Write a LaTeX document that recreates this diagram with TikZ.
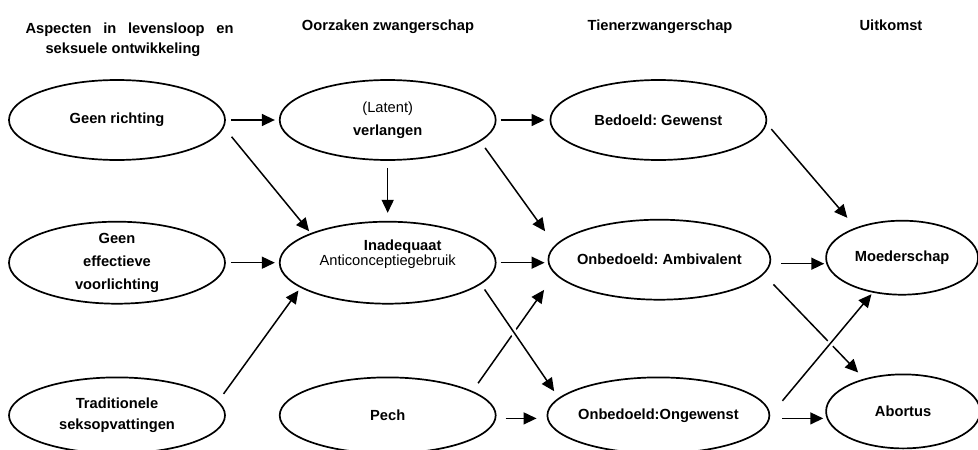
\documentclass[tikz,border=0pt]{standalone}
\usepackage{fontspec}
\setmainfont{Liberation Sans}
\frenchspacing
\usetikzlibrary{shapes.geometric,arrows.meta,positioning}

\begin{document}
\begin{tikzpicture}[
    x=1pt, y=-1pt,
    state/.style={ellipse, draw, line width=1.7pt, minimum width=216pt, minimum height=80pt, inner xsep=-10pt, inner ysep=-1pt, align=center, font=\fontsize{14.67}{23}\selectfont\bfseries},
    head/.style={anchor=base, font=\fontsize{14.67}{20}\selectfont\bfseries},
    arrow/.style={-{Triangle[length=13pt,width=12pt]}, line width=1.5pt},
    gap/.style={draw=white, line width=7pt}
]
\useasboundingbox (0,0) rectangle (978,450);

% Column titles
\node[head, anchor=north west, align=left] (h_aspect) at (22,19) {\makebox[208pt][s]{Aspecten in levensloop en}\\\hspace*{20pt}seksuele ontwikkeling};
\node[head] (h_oorzaak) at (388,30) {Oorzaken zwangerschap};
\node[head] (h_tiener) at (660,30) {Tienerzwangerschap};
\node[head] (h_uitkomst) at (891,30) {Uitkomst};

% Top row
\node[state] (richting) at (117,120) {Geen richting};
\node[state, right=53pt of richting] (verlangen) {{\mdseries (Latent)}\\verlangen};
\node[state, right=53pt of verlangen] (gewenst) {Bedoeld: Gewenst};

% Middle row
\node[state, below=60pt of richting, minimum height=82pt] (voorlichting) {Geen\\effectieve\\voorlichting};
\node[state, right=53pt of voorlichting, minimum height=82pt, font=\fontsize{14.67}{15.5}\selectfont\bfseries] (anticonc) {\hspace*{30pt}Inadequaat\\{\mdseries Anticonceptiegebruik}\rule[-20pt]{0pt}{20pt}};
\node[state, right=51pt of anticonc, minimum width=222pt, yshift=3pt] (ambivalent) {Onbedoeld: Ambivalent};
\node[state, right=54pt of ambivalent, minimum width=152pt, minimum height=74pt, yshift=2pt] (moeder) {Moederschap};

% Bottom row
\node[state, below=72pt of voorlichting, minimum height=76pt, font=\fontsize{14.67}{21}\selectfont\bfseries] (traditie) {Traditionele\\seksopvattingen};
\node[state, right=53pt of traditie, minimum height=76pt] (pech) {Pech};
\node[state, right=50pt of pech, minimum width=222pt, minimum height=76pt] (ongewenst) {Onbedoeld:Ongewenst};
\node[state, right=55pt of ongewenst, minimum width=154pt, minimum height=74pt, yshift=4pt] (abortus) {Abortus};

% Causes
\draw[arrow, shorten <=5pt, shorten >=4pt] (richting) -- (verlangen);
\draw[arrow, shorten <=12pt, shorten >=2.5pt] (richting.-4.9) -- (anticonc.159.2);
\draw[arrow, shorten <=7pt, shorten >=8pt] (verlangen) -- (anticonc);
\draw[arrow, shorten <=4pt, shorten >=5pt] (verlangen) -- (gewenst);
\draw[arrow, shorten <=8pt, shorten >=17pt] (verlangen.-13.3) -- (ambivalent.172);
\draw[arrow, shorten <=5pt, shorten >=4pt] (voorlichting) -- (anticonc);
\draw[arrow, shorten <=4pt, shorten >=3pt] (anticonc.east) -- (anticonc.east -| ambivalent.west);
\draw[arrow, shorten <=9pt, shorten >=3.4pt] (traditie.8.4) -- (anticonc.-164.4);
\draw[arrow, shorten <=9.6pt, shorten >=19pt] (pech.16.2) -- (ambivalent.-172.1);
\draw[arrow, shorten <=9pt, shorten >=10pt] ([yshift=-3pt]pech.east) -- ([yshift=-3pt]pech.east -| ongewenst.west);
\draw[gap, shorten <=50pt, shorten >=50pt] (anticonc.-13.4) -- (ongewenst.170.7);
\draw[arrow, shorten <=6.3pt, shorten >=8pt] (anticonc.-13.4) -- (ongewenst.170.7);

% Outcomes
\draw[arrow, shorten <=7pt, shorten >=12.8pt] (gewenst.-2.45) -- (moeder.147.8);
\draw[arrow, shorten <=10pt, shorten >=1pt] ([yshift=-4pt]ambivalent.east) -- ([yshift=-4pt]ambivalent.east -| moeder.west);
\draw[arrow, shorten <=14pt, shorten >=8.5pt] (ambivalent.-8.2) -- (abortus.140.8);
\draw[gap, shorten <=70pt, shorten >=50pt] (ongewenst.-0.3) -- (moeder.-130.7);
\draw[arrow, shorten <=19pt, shorten >=2pt] (ongewenst.-0.3) -- (moeder.-130.7);
\draw[arrow, shorten <=12pt, shorten >=2pt] ([yshift=-3pt]ongewenst.east) -- ([yshift=-3pt]ongewenst.east -| abortus.west);

\end{tikzpicture}
\end{document}
